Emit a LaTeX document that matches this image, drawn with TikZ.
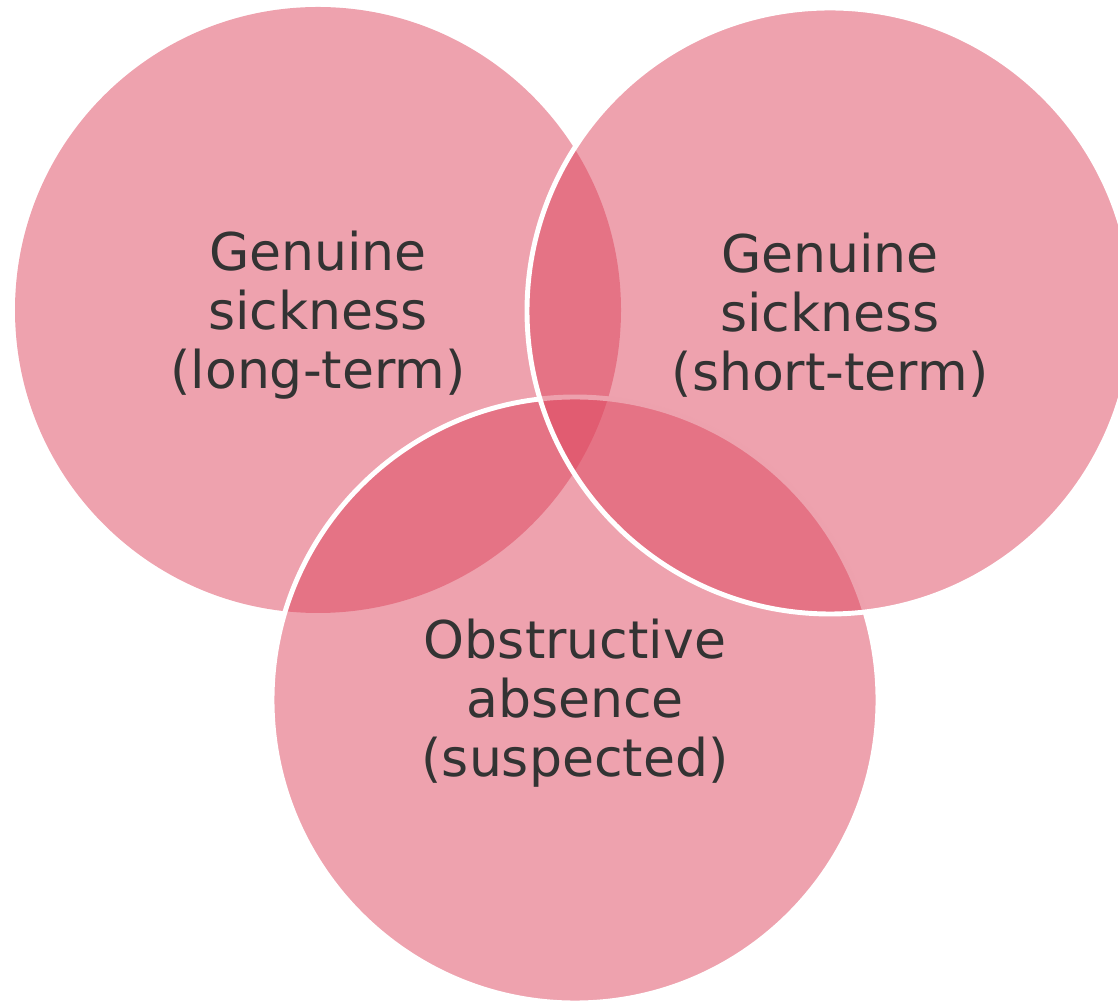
\documentclass[tikz,border=0pt]{standalone}
\usepackage{fontspec}
\usepackage{xcolor}
\usepackage{tikz}
\newfontfamily\vennfont{DejaVu Sans}
\definecolor{vennpink}{RGB}{221,69,93}
\definecolor{labelgray}{RGB}{51,51,51}

\begin{document}
\begin{tikzpicture}[
    venn/.style={circle, minimum size=6.06cm, inner sep=0pt,
      fill=vennpink, fill opacity=0.5},
    rim/.style={draw=white, draw opacity=1, line width=1.4pt},
    caption/.style={text=labelgray, align=center,
      font=\vennfont\fontsize{14.8pt}{16.7pt}\selectfont}
  ]
  \useasboundingbox (0,0) rectangle (11.18,-10.03);

  % Kreis links, ohne Rand
  \node[venn] (longterm) at (3.18,-3.10) {};

  % Kreis unten
  \node[venn, rim] (suspected) at (5.75,-7.00) {};

  % Kreis rechts, liegt oben
  \node[venn, rim] (shortterm) at (8.30,-3.11) {};

  % Beschriftungen
  \node[caption] (longtermtext) at ([yshift=-0.05cm]longterm.center) {Genuine\\sickness\\(long-term)};
  \node[caption] (shorttermtext) at ([yshift=-0.04cm]shortterm.center) {Genuine\\sickness\\(short-term)};
  \node[caption] (suspectedtext) at ([yshift=-0.03cm]suspected.center) {Obstructive\\absence\\(suspected)};
\end{tikzpicture}
\end{document}
